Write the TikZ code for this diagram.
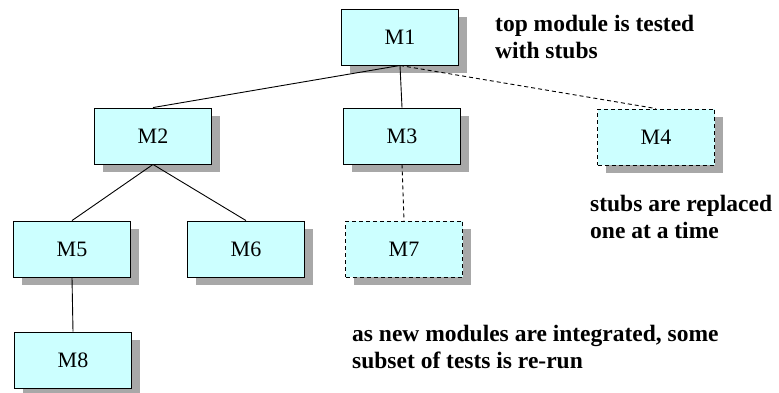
\documentclass[tikz,border=0pt]{standalone}
\usepackage{fontspec}
\setmainfont{Liberation Serif}
\usetikzlibrary{shadows}
\usetikzlibrary{positioning}
\definecolor{modcyan}{RGB}{204,255,255}
\definecolor{shadegray}{RGB}{168,168,168}
\tikzset{
module/.style={draw, fill=modcyan, line width=0.9pt, minimum width=117pt, minimum height=56pt, inner sep=0pt,
	font=\fontsize{22}{26}\selectfont,
	drop shadow={shadow xshift=8pt, shadow yshift=-8pt, fill=shadegray, opacity=1}},
stubmod/.style={module, dash pattern=on 4pt off 3pt},
note/.style={align=left, anchor=base west, inner sep=0pt, font=\bfseries\fontsize{23.5}{27}\selectfont},
link/.style={line width=0.9pt},
stublink/.style={line width=0.9pt, dash pattern=on 4pt off 3pt}
}
\begin{document}
\begin{tikzpicture}[x=1pt,y=-1pt]
\useasboundingbox (0,0) rectangle (779,392);
\node[module] (m1) at (400,37) {M1};
\node[module] (m2) at (153,136) {M2};
\node[module] (m3) at (402,136) {M3};
\node[stubmod] (m4) at (656,137) {M4};
\node[module] (m5) at (72,249) {M5};
\node[module] (m6) at (246,249) {M6};
\node[stubmod] (m7) at (404,249) {M7};
\node[module] (m8) at (73,360) {M8};
\draw[link] (m1.south) -- (m2.north);
\draw[link] (m1.south) -- (m3.north);
\draw[stublink] (m1.south) -- (m4.north);
\draw[stublink] (m3.south) -- (m7.north);
\draw[link] (m2.south) -- (m5.north);
\draw[link] (m2.south) -- (m6.north);
\draw[link] (m5.south) -- (m8.north);
\node[note] (top) at (495,58) {top module is tested\\with stubs};
\node[note] (stubs) at (590,238.5) {stubs are replaced\\one at a time};
\node[note] (rerun) at (352,368) {as new modules are integrated, some\\subset of tests is re-run};
\end{tikzpicture}
\end{document}
